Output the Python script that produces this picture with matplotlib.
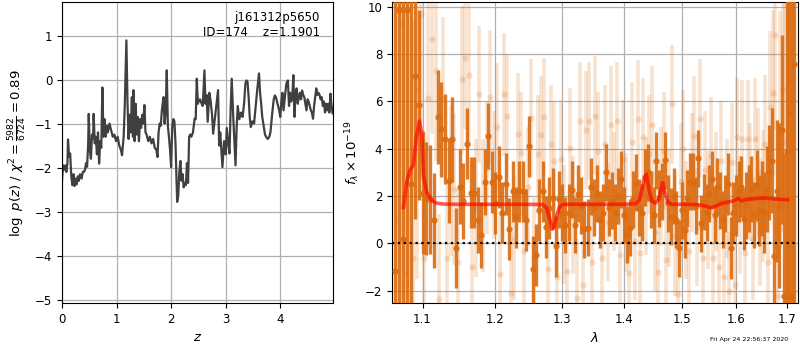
import numpy as np
import matplotlib
matplotlib.use("Agg")
import matplotlib.pyplot as plt
from matplotlib.ticker import FixedLocator, FixedFormatter, NullLocator

# ---------------- left panel: log p(z) -----------------
z_grid = [0.00, 0.02, 0.04, 0.06, 0.08, 0.10, 0.11, 0.13, 0.15, 0.17, 0.19, 0.21, 0.23, 0.25, 0.27, 0.29,
          0.31, 0.33, 0.36, 0.38, 0.40, 0.42, 0.44, 0.46, 0.48, 0.49, 0.51, 0.53, 0.55, 0.57, 0.58, 0.60,
          0.62, 0.64, 0.66, 0.68, 0.70, 0.72, 0.74, 0.76, 0.78, 0.80, 0.82, 0.84, 0.87, 0.90, 0.93, 0.96,
          0.99, 1.02, 1.05, 1.08, 1.10, 1.13, 1.15, 1.18, 1.20, 1.22, 1.24, 1.26, 1.28, 1.30, 1.31, 1.33,
          1.35, 1.37, 1.39, 1.41, 1.43, 1.45, 1.47, 1.49, 1.51, 1.53, 1.55, 1.58, 1.61, 1.64, 1.67, 1.70,
          1.73, 1.75, 1.77, 1.79, 1.81, 1.83, 1.86, 1.88, 1.90, 1.92, 1.94, 1.96, 1.98, 2.00, 2.02, 2.04,
          2.06, 2.08, 2.11, 2.13, 2.15, 2.17, 2.19, 2.21, 2.23, 2.25, 2.27, 2.29, 2.31, 2.33, 2.35, 2.37,
          2.40, 2.43, 2.45, 2.47, 2.49, 2.51, 2.53, 2.56, 2.58, 2.61, 2.63, 2.65, 2.67, 2.70, 2.72, 2.75,
          2.77, 2.80, 2.83, 2.86, 2.88, 2.90, 2.92, 2.94, 2.97, 3.00, 3.02, 3.05, 3.07, 3.09, 3.11, 3.14,
          3.16, 3.18, 3.20, 3.22, 3.25, 3.28, 3.31, 3.34, 3.36, 3.38, 3.40, 3.42, 3.44, 3.46, 3.49, 3.52,
          3.55, 3.58, 3.61, 3.63, 3.65, 3.67, 3.70, 3.72, 3.74, 3.77, 3.80, 3.82, 3.85, 3.88, 3.90, 3.92,
          3.95, 3.98, 4.00, 4.02, 4.04, 4.06, 4.08, 4.11, 4.14, 4.16, 4.18, 4.20, 4.22, 4.24, 4.26, 4.28,
          4.30, 4.32, 4.34, 4.36, 4.38, 4.40, 4.42, 4.44, 4.46, 4.48, 4.50, 4.52, 4.54, 4.56, 4.58, 4.60,
          4.62, 4.64, 4.66, 4.68, 4.70, 4.72, 4.74, 4.76, 4.78, 4.80, 4.82, 4.84, 4.86, 4.88, 4.90, 4.92,
          4.94, 4.96]
log_pz = [-2.29, -1.95, -2.05, -1.95, -2.10, -1.90, -1.36, -1.75, -1.68, -2.20, -2.40, -2.15, -2.42, -2.25, -2.38, -2.20,
          -2.30, -2.15, -2.25, -2.10, -2.10, -2.06, -1.90, -1.98, -1.45, -0.78, -1.60, -1.80, -1.25, -1.35, -0.78, -1.45,
          -1.30, -1.70, -1.20, -1.91, -1.40, -1.55, -0.18, -1.30, -0.90, -1.30, -1.05, -1.20, -1.00, -1.15, -1.30, -1.25,
          -1.40, -1.30, -1.50, -1.60, -1.72, -1.30, -0.60, 0.89, -0.50, -1.35, -0.80, -1.20, -0.40, -1.30, -0.24, -1.40,
          -0.55, -1.25, -0.85, -1.40, -0.90, -1.10, -0.80, -1.00, -0.58, -1.20, -1.25, -1.40, -1.30, -1.45, -1.35, -1.55,
          -1.60, -1.76, -1.20, -1.00, -1.05, -0.70, -0.40, -1.00, -0.75, 0.21, -1.05, -1.30, -1.60, -1.99, -1.10, -0.90,
          -0.95, -1.45, -2.78, -2.65, -2.10, -1.85, -2.30, -2.15, -2.45, -2.35, -2.40, -1.90, -2.35, -1.30, -1.25, -1.30,
          -1.20, -0.89, -0.90, 0.02, -0.55, -0.47, -0.45, -0.55, -0.60, 0.21, -0.55, -0.35, -0.96, -0.30, -0.45, -0.80,
          -1.23, -0.90, -0.55, -0.24, -1.50, -1.20, -1.60, -1.99, -1.40, -1.70, -1.10, -1.50, -1.68, -0.70, 0.02, -0.90,
          -1.40, -1.95, -1.10, -0.60, -0.90, -0.75, -0.85, -0.50, -0.10, -0.02, -0.05, -0.40, -0.85, -1.08, -0.95, -1.00,
          -0.60, -0.20, 0.14, -0.30, -0.55, -0.85, -1.10, -1.25, -1.30, -1.35, -1.30, -1.20, -0.80, -0.45, -0.36, -0.40,
          -0.55, -0.70, -0.85, -0.50, -0.30, -0.70, -0.45, -0.10, -0.02, -0.60, -0.30, -0.50, -0.40, 0.10, -0.85, -0.30,
          -0.20, -0.55, -0.40, -0.30, -0.45, -0.25, -0.35, -0.40, -0.55, -0.70, -0.45, -0.50, -0.60, -0.70, -0.75, -0.89,
          -0.60, -0.40, -0.20, -0.35, -0.30, -0.35, -0.45, -0.40, -0.60, -0.50, -0.75, -0.55, -0.70, -0.55, -0.75, -0.32,
          -0.60, -0.77]

# ---------------- right panel: spectrum -----------------
# first orientation (opaque)
lam_a = [1.065, 1.070, 1.075, 1.080, 1.085, 1.090, 1.095, 1.100, 1.105, 1.110, 1.115, 1.120, 1.125, 1.130,
         1.135, 1.140, 1.145, 1.150, 1.155, 1.160, 1.165, 1.170, 1.175, 1.180, 1.185, 1.190, 1.195, 1.200,
         1.205, 1.210, 1.215, 1.220, 1.225, 1.230, 1.235, 1.240, 1.245, 1.250, 1.255, 1.260, 1.265, 1.270,
         1.275, 1.280, 1.285, 1.290, 1.295, 1.300, 1.305, 1.310, 1.315, 1.320, 1.325, 1.330, 1.335, 1.340,
         1.345, 1.350, 1.355, 1.360, 1.365, 1.370, 1.375, 1.380, 1.385, 1.390, 1.395, 1.400, 1.405, 1.410,
         1.415, 1.420, 1.425, 1.430, 1.435, 1.440, 1.445, 1.450, 1.455, 1.460, 1.465, 1.470, 1.475, 1.480,
         1.485, 1.490, 1.495, 1.500, 1.505, 1.510, 1.515, 1.520, 1.525, 1.530, 1.535, 1.540, 1.545, 1.550,
         1.555, 1.560, 1.565, 1.570, 1.575, 1.580, 1.585, 1.590, 1.595, 1.600, 1.605, 1.610, 1.615, 1.620,
         1.625, 1.630, 1.635, 1.640, 1.645, 1.650, 1.655, 1.660, 1.665, 1.670, 1.675, 1.680, 1.685, 1.690,
         1.695, 1.700, 1.705, 1.710, 1.715]
flux_a = [-1.16, 9.85, 0.18, 9.85, 2.5, 7.05, 5.85, 2.15, 1.9, 1.87, 0.98, 5.34, 4.82, 4.4,
          2.65, 4.4, -0.2, 2.4, 1.8, 4.2, 2.15, 2.15, 1.0, 0.37, 2.6, 4.55, 2.6, 1.7,
          2.8, 1.3, 2.5, 0.6, 2.2, 1.1, 2.2, 2.2, 1.0, 4.1, -1.1, -0.5, 1.4, 2.2,
          0.7, 1.5, 1.9, -0.13, 1.87, 1.3, 0.78, 1.3, 2.26, 0.78, 2.1, 1.6, 0.6, 0.67,
          2.4, 1.5, 2.1, 1.0, 1.3, 3.0, 1.5, 1.8, 1.3, 2.0, 2.7, 1.2, 0.38, 0.67,
          1.87, 2.57, 1.5, 1.3, 2.8, 3.0, 1.87, 1.2, 3.5, 1.9, 2.2, 3.51, 1.7, 1.13,
          2.0, 1.0, -0.2, 1.4, 0.58, 1.9, 2.6, 2.6, 1.6, 3.6, 0.85, 1.75, 1.3, 2.1,
          2.7, 1.2, 2.4, 1.8, 1.0, 1.7, 2.5, -0.2, 1.3, 1.6, 2.2, 2.4, 1.03, 1.6,
          1.9, 2.3, 1.2, 2.45, 1.4, 1.9, 1.3, 2.3, 3.0, 3.5, -0.55, 2.2, 1.6, 4.8,
          -2.2, 3.9, 5.5, -2.2, 7.56]
err_a = [14, 14, 14, 14, 10, 6, 4, 2.6, 2.4, 2.3, 2.0, 2.0, 2.0, 1.9,
         1.8, 1.8, 1.7, 1.6, 1.6, 1.5, 1.5, 1.5, 1.4, 1.4, 1.4, 1.4, 1.3, 1.3,
         1.3, 1.3, 1.3, 1.3, 1.3, 1.3, 1.3, 1.3, 1.3, 1.3, 1.4, 1.3, 1.3, 1.3,
         1.3, 1.3, 1.3, 1.3, 1.2, 1.2, 1.2, 1.2, 1.2, 1.2, 1.2, 1.2, 1.2, 1.2,
         1.2, 1.2, 1.2, 1.2, 1.2, 1.2, 1.2, 1.2, 1.2, 1.2, 1.2, 1.2, 1.2, 1.2,
         1.2, 1.2, 1.2, 1.2, 1.2, 1.2, 1.2, 1.2, 1.2, 1.2, 1.2, 1.2, 1.2, 1.2,
         1.2, 1.2, 1.2, 1.2, 1.2, 1.2, 1.2, 1.2, 1.2, 1.2, 1.2, 1.2, 1.2, 1.2,
         1.2, 1.2, 1.2, 1.2, 1.2, 1.2, 1.3, 1.3, 1.3, 1.3, 1.3, 1.3, 1.3, 1.4,
         1.4, 1.4, 1.4, 1.5, 1.5, 1.6, 1.7, 1.8, 2.0, 2.2, 2.5, 3.0, 3.5, 4.0,
         6.0, 8.0, 12, 14, 14]

# second orientation (faint)
lam_b = [1.0675, 1.0725, 1.0775, 1.0825, 1.0875, 1.0925, 1.0975, 1.1025, 1.1075, 1.1125, 1.1175, 1.1225,
         1.1275, 1.1325, 1.1375, 1.1425, 1.1475, 1.1525, 1.1575, 1.1625, 1.1675, 1.1725, 1.1775, 1.1825,
         1.1875, 1.1925, 1.1975, 1.2025, 1.2075, 1.2125, 1.2175, 1.2225, 1.2275, 1.2325, 1.2375, 1.2425,
         1.2475, 1.2525, 1.2575, 1.2625, 1.2675, 1.2725, 1.2775, 1.2825, 1.2875, 1.2925, 1.2975, 1.3025,
         1.3075, 1.3125, 1.3175, 1.3225, 1.3275, 1.3325, 1.3375, 1.3425, 1.3475, 1.3525, 1.3575, 1.3625,
         1.3675, 1.3725, 1.3775, 1.3825, 1.3875, 1.3925, 1.3975, 1.4025, 1.4075, 1.4125, 1.4175, 1.4225,
         1.4275, 1.4325, 1.4375, 1.4425, 1.4475, 1.4525, 1.4575, 1.4625, 1.4675, 1.4725, 1.4775, 1.4825,
         1.4875, 1.4925, 1.4975, 1.5025, 1.5075, 1.5125, 1.5175, 1.5225, 1.5275, 1.5325, 1.5375, 1.5425,
         1.5475, 1.5525, 1.5575, 1.5625, 1.5675, 1.5725, 1.5775, 1.5825, 1.5875, 1.5925, 1.5975, 1.6025,
         1.6075, 1.6125, 1.6175, 1.6225, 1.6275, 1.6325, 1.6375, 1.6425, 1.6475, 1.6525, 1.6575, 1.6625,
         1.6675, 1.6725, 1.6775, 1.6825, 1.6875, 1.6925, 1.6975, 1.7025, 1.7075, 1.7125]
flux_b = [1.0, 9.25, -1.25, 1.05, -0.6, 6.5, 9.7, -0.6, 6.15, 8.62, 7.3, -2.35,
          6.15, -0.6, 2.65, 2.3, -0.8, 6.93, 7.85, 7.1, -1.0, 1.5, 6.3, 1.6,
          3.2, 6.2, 2.9, 4.9, -1.3, 6.3, 5.4, -2.1, 0.2, 4.6, 3.8, -0.3,
          2.4, 5.3, -0.6, 3.76, 4.56, 5.35, -1.1, 4.2, 3.5, -1.4, 3.55, 0.8,
          -1.15, 4.05, 1.2, -2.3, 5.17, -1.75, 4.8, 5.17, -0.8, 5.4, 3.9, -0.6,
          4.2, 0.9, 5.0, 2.2, 5.17, -0.5, 3.55, 1.3, -1.25, 4.3, 0.1, 5.25,
          -0.4, 4.48, 2.0, 3.76, 5.0, 0.5, -1.2, 2.4, 3.9, -0.7, 1.5, 5.87,
          0.3, -2.15, 2.6, 3.97, 1.0, -0.3, 3.0, 4.55, 0.7, 5.27, -0.6, 3.1,
          1.4, 3.7, -0.6, 2.2, -1.0, 3.5, -1.4, 1.9, -2.0, 3.45, -1.75, 4.5,
          1.2, 4.4, -0.4, 4.4, 2.6, 0.2, 4.4, 3.0, 0.9, 2.0, 4.2, -0.8,
          5.75, 6.35, 8.8, -2.2, 4.8, 6.5, 4.3, 9.1, 4.3, -0.5]
err_b = [14, 14, 14, 12, 10, 8, 7, 5, 4.5, 4, 3.8, 3.6,
         3.4, 3.3, 3.2, 3.2, 3.1, 3.1, 3.0, 3.0, 3.0, 2.9, 2.9, 2.8,
         2.8, 2.8, 2.7, 2.7, 2.7, 2.6, 2.6, 2.6, 2.6, 2.6, 2.6, 2.5,
         2.5, 2.5, 2.5, 2.5, 2.5, 2.5, 2.5, 2.5, 2.5, 2.5, 2.5, 2.5,
         2.5, 2.5, 2.5, 2.5, 2.5, 2.5, 2.5, 2.5, 2.5, 2.5, 2.5, 2.5,
         2.5, 2.5, 2.5, 2.5, 2.5, 2.5, 2.5, 2.5, 2.5, 2.5, 2.5, 2.5,
         2.5, 2.5, 2.5, 2.5, 2.5, 2.5, 2.5, 2.5, 2.5, 2.5, 2.5, 2.5,
         2.5, 2.5, 2.5, 2.5, 2.5, 2.5, 2.5, 2.5, 2.5, 2.5, 2.5, 2.5,
         2.5, 2.5, 2.5, 2.5, 2.5, 2.5, 2.5, 2.5, 2.5, 2.5, 2.5, 2.5,
         2.5, 2.5, 2.5, 2.5, 2.5, 2.6, 2.6, 2.7, 2.7, 2.8, 2.9, 3.0,
         3.2, 3.5, 4.0, 4.5, 5, 6, 8, 10, 12, 14]

# best-fit model
model_lam = [1.0752, 1.0795, 1.0838, 1.0880, 1.0920, 1.0960, 1.0990, 1.1013, 1.1058, 1.1124, 1.1190,
             1.1300, 1.1500, 1.2000, 1.2500, 1.2700, 1.2760, 1.2800, 1.2847, 1.2880, 1.2915, 1.2960,
             1.3020, 1.3500, 1.4000, 1.4200, 1.4260, 1.4310, 1.4350, 1.4377, 1.4420, 1.4470, 1.4530,
             1.4590, 1.4630, 1.4659, 1.4700, 1.4750, 1.4820, 1.5000, 1.5200, 1.5350, 1.5450, 1.5534,
             1.5620, 1.5720, 1.5850, 1.5960, 1.6046, 1.6100, 1.6200, 1.6400, 1.6600, 1.6750, 1.6900,
             1.7018]
model_flux = [1.52, 2.6, 3.1, 3.3, 4.5, 5.17, 4.6, 2.85, 2.15, 1.8, 1.7,
              1.66, 1.65, 1.65, 1.65, 1.64, 1.5, 1.1, 0.6, 0.75, 1.2, 1.55,
              1.65, 1.65, 1.65, 1.68, 1.85, 2.4, 2.8, 2.92, 2.3, 1.8, 1.7,
              1.85, 2.3, 2.57, 2.1, 1.75, 1.65, 1.65, 1.65, 1.62, 1.56, 1.5,
              1.58, 1.68, 1.75, 1.8, 1.9, 1.8, 1.85, 1.9, 1.92, 1.88, 1.85,
              1.85]

x_ticks_spec = [1.1, 1.2, 1.3, 1.4, 1.5, 1.6, 1.7]
x_ticklabels_spec = ["1.1", "1.2", "1.3", "1.4", "1.5", "1.6", "1.7"]

# ---------------- figure -----------------
plt.rcParams['font.family'] = ['DejaVu Sans']
fig = plt.figure(figsize=(8, 3.5), dpi=100)
ax1 = fig.add_axes([0.0775, 0.134, 0.339, 0.86])
ax2 = fig.add_axes([0.490, 0.134, 0.507, 0.86])

TICK_FS = 8.5
LAB_FS = 9.5

ax1.plot(z_grid, log_pz, color='0.25', lw=1.6)
ax1.set_xlim(0, 4.97)
ax1.set_ylim(-5.08, 1.76)
ax1.set_xticks([0, 1, 2, 3, 4])
ax1.set_yticks([-5, -4, -3, -2, -1, 0, 1])
ax1.grid(True, color='#b0b0b0', lw=0.9)
ax1.set_axisbelow(True)
ax1.tick_params(labelsize=TICK_FS)
ax1.set_xlabel(r'$z$', fontsize=LAB_FS)
ax1.set_ylabel(r'$\log\ p(z)$ / $\chi^2=\frac{5982}{6724}=0.89$', fontsize=LAB_FS)
ax1.text(0.95, 0.97, 'j161312p5650\nID=174    z=1.1901', transform=ax1.transAxes,
         ha='right', va='top', fontsize=8.5, linespacing=1.15)

C = (0.86, 0.42, 0.06)
ax2.set_xscale('log')
ax2.errorbar(lam_b, flux_b, yerr=err_b, fmt='o', color=C, ecolor=C, alpha=0.2,
             ms=4.5, mew=0, elinewidth=2.6, capsize=0, zorder=2)
ax2.errorbar(lam_a, flux_a, yerr=err_a, fmt='o', color=C, ecolor=C, alpha=0.9,
             ms=4.5, mew=0, elinewidth=2.4, capsize=0, zorder=3)
ax2.plot(model_lam, model_flux, color='r', alpha=0.65, lw=2.6, zorder=5)
ax2.axhline(0, color='k', ls=':', lw=1.6, zorder=6)
ax2.set_xlim(1.0606, 1.7225)
ax2.set_ylim(-2.52, 10.19)
ax2.xaxis.set_major_locator(FixedLocator(x_ticks_spec))
ax2.xaxis.set_major_formatter(FixedFormatter(x_ticklabels_spec))
ax2.xaxis.set_minor_locator(NullLocator())
ax2.set_yticks([-2, 0, 2, 4, 6, 8, 10])
ax2.grid(True, color='#b0b0b0', lw=0.9)
ax2.set_axisbelow(True)
ax2.tick_params(labelsize=TICK_FS)
ax2.set_xlabel(r'$\lambda$', fontsize=LAB_FS)
ax2.set_ylabel(r'$f_\lambda\times10^{-19}$', fontsize=LAB_FS, labelpad=2)

fig.text(0.985, 0.03, 'Fri Apr 24 22:56:37 2020', ha='right', va='center', fontsize=4.5)

fig.savefig('out.png', dpi=100)
